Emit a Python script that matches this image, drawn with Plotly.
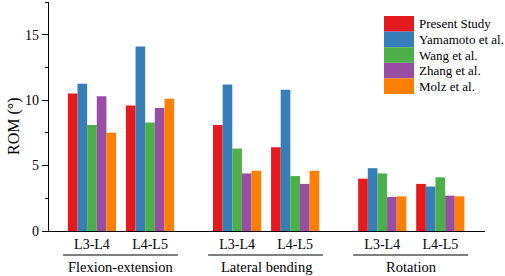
import plotly.graph_objects as go

groups = ["Flexion-extension", "Lateral bending", "Rotation"]
levels = ["L3-L4", "L4-L5"]
series = ["Present Study", "Yamamoto et al.", "Wang et al.", "Zhang et al.", "Molz et al."]
colors = ["#E41A1C", "#377EB8", "#4DAF4A", "#984EA3", "#FF7F00"]

# values ordered: FE L3-L4, FE L4-L5, LB L3-L4, LB L4-L5, Rot L3-L4, Rot L4-L5
present = [10.5, 9.6, 8.1, 6.4, 4.0, 3.6]
yamamoto = [11.25, 14.1, 11.2, 10.8, 4.8, 3.4]
wang = [8.1, 8.3, 6.3, 4.2, 4.4, 4.1]
zhang = [10.3, 9.4, 4.4, 3.6, 2.6, 2.7]
molz = [7.5, 10.1, 4.6, 4.6, 2.65, 2.65]
values = [present, yamamoto, wang, zhang, molz]

GROUP_STEP = 2.5
pos = [g * GROUP_STEP + j for g in range(len(groups)) for j in range(len(levels))]
ticktext = [lv for g in groups for lv in levels]

FONT = "Liberation Serif"

fig = go.Figure()
for name, col, vals in zip(series, colors, values):
    fig.add_trace(go.Bar(x=pos, y=vals, name=name, marker=dict(color=col, line=dict(width=0)),
                         showlegend=False))

# plot-area pixel geometry helpers for legend placement
L, R, T, B = 49, 20, 2, 45
W, H = 505, 276
pw, ph = W - L - R, H - T - B
def px(x):
    return (x - L) / pw
def py(y):
    return (H - B - y) / ph

shapes = []
annotations = []
# manual legend
row_h = 15.6
top0 = 16
for i, (name, col) in enumerate(zip(series, colors)):
    y0 = top0 + i * row_h
    shapes.append(dict(type="rect", xref="paper", yref="paper",
                       x0=px(384), x1=px(414), y0=py(y0 + row_h), y1=py(y0),
                       fillcolor=col, line=dict(width=0)))
    annotations.append(dict(text=name, xref="paper", yref="paper", x=px(417), y=py(y0 + row_h / 2),
                            xanchor="left", yanchor="middle", showarrow=False,
                            font=dict(family=FONT, size=13, color="black")))

# group underlines and labels
for g, gname in enumerate(groups):
    start = g * GROUP_STEP
    end = g * GROUP_STEP + len(levels) - 1
    shapes.append(dict(type="line", xref="x", yref="paper", x0=start - 0.5, x1=end + 0.48,
                       y0=py(255), y1=py(255), line=dict(color="black", width=1.2)))
    annotations.append(dict(text=gname, xref="x", yref="paper", x=(start + end) / 2, y=py(267),
                            xanchor="center", yanchor="middle", showarrow=False,
                            font=dict(family=FONT, size=14.5, color="black")))

annotations.append(dict(text="ROM (°)", xref="paper", yref="paper", x=px(14), y=py(126),
                        xanchor="center", yanchor="middle", textangle=-90, showarrow=False,
                        font=dict(family=FONT, size=16, color="black")))

fig.update_layout(
    width=W, height=H,
    margin=dict(l=L, r=R, t=T, b=B),
    paper_bgcolor="white", plot_bgcolor="white",
    barmode="group", bargap=0.17, bargroupgap=0,
    font=dict(family=FONT, size=14, color="black"),
    shapes=shapes, annotations=annotations,
    xaxis=dict(range=[-0.74, 6.77], tickvals=pos, ticktext=ticktext, ticks="",
               showline=True, linecolor="black", linewidth=1.3, showgrid=False, zeroline=False,
               tickfont=dict(family=FONT, size=14)),
    yaxis=dict(range=[0, 17.5], tickvals=[0, 5, 10, 15], ticks="outside", ticklen=6, tickwidth=1.2,
               tickcolor="black", showline=True, linecolor="black", linewidth=1.3,
               showgrid=False, zeroline=False, tickfont=dict(family=FONT, size=14),
               minor=dict(tickvals=[2.5, 7.5, 12.5, 17.5], ticks="outside", ticklen=3,
                          tickwidth=1.2, tickcolor="black")),
)

fig.write_html("out.html", config={"displayModeBar": False},
               post_script="document.body.style.margin='0';")
